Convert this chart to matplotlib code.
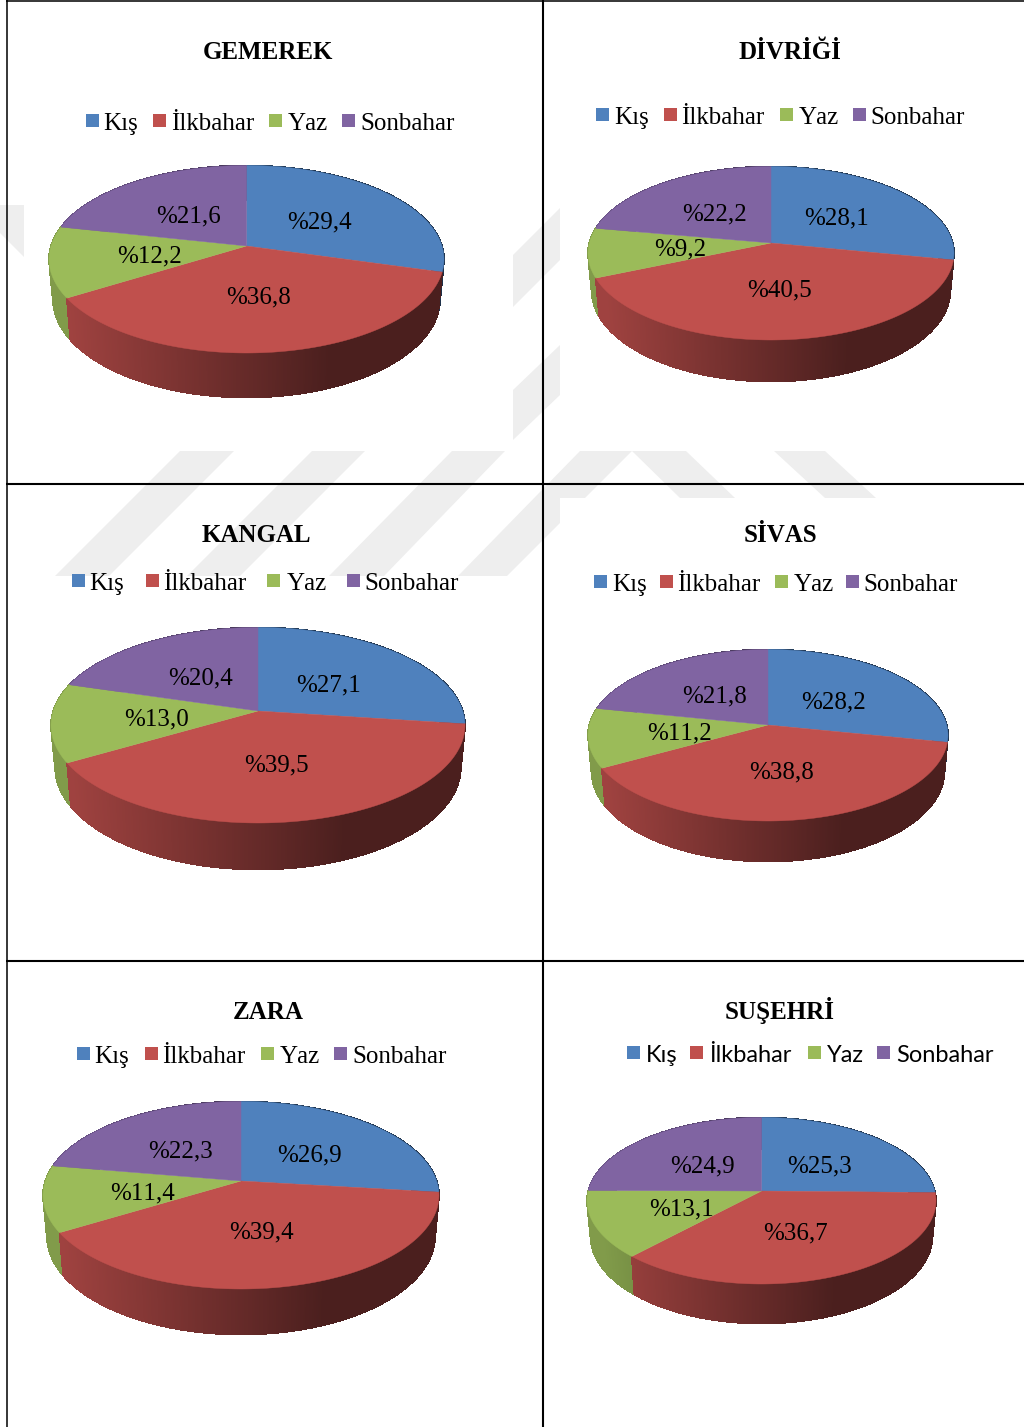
import numpy as np
import matplotlib
matplotlib.use("Agg")
import matplotlib.pyplot as plt
from matplotlib.collections import PolyCollection
from matplotlib.patches import Polygon, Rectangle

plt.rcParams["text.kerning_factor"] = 6

# chart values, percent per season
districts = ["GEMEREK", "DİVRİĞİ", "KANGAL", "SİVAS", "ZARA", "SUŞEHRİ"]
seasons = ["Kış", "İlkbahar", "Yaz", "Sonbahar"]
kis = [29.4, 28.1, 27.1, 28.2, 26.9, 25.3]
ilkbahar = [36.8, 40.5, 39.5, 38.8, 39.4, 36.7]
yaz = [12.2, 9.2, 13.0, 11.2, 11.4, 13.1]
sonbahar = [21.6, 22.2, 20.4, 21.8, 22.3, 24.9]

colors = ["#4f81bd", "#c0504d", "#9bbb59", "#8064a2"]

# layout in image pixels: apex y, top, bottom, wall bottom, left, right
pie_boxes = [
    (246, 165.5, 353, 397.5, 49, 444),
    (243, 166.5, 340, 381.5, 588, 954),
    (711, 627.5, 823, 869.5, 51, 465),
    (725, 649.5, 821, 861.5, 588, 948),
    (1181, 1101.5, 1289, 1334.5, 43, 439),
    (1191, 1117.5, 1284, 1323.5, 587, 936),
]
title_pos = [(268, 59), (790, 59), (256, 542), (780, 542), (268, 1019), (780, 1019)]
legend_swatch_x = [
    (86, 153, 269, 342), (596, 664, 780, 853), (72, 146, 267, 347),
    (594, 660, 775, 846), (77, 145, 261, 334), (627, 690, 808, 877),
]
legend_text_x = [
    (103.5, 171, 287.5, 360), (614.5, 681.5, 798.5, 870.5), (89.5, 163.5, 286.5, 364.5),
    (612.5, 677.5, 793.5, 863.5), (94.5, 162.5, 279.5, 352), (646, 709, 827, 896.5),
]
legend_base = [130, 124, 590, 591, 1063, 1062]
label_pos = [
    [(319.5, 220), (258.5, 295), (149.5, 254), (188.5, 214)],
    [(836.5, 216), (779.5, 288), (680.5, 247), (714.5, 212)],
    [(328.5, 683), (276.5, 763), (156.5, 717), (200.5, 676)],
    [(833.5, 700), (781.5, 770), (679.5, 731), (714.5, 694)],
    [(309.5, 1153), (261.5, 1230), (142.5, 1191), (180.5, 1149)],
    [(819.5, 1164), (795.5, 1231), (681.5, 1207), (702.5, 1164)],
]

SERIF = "Liberation Serif"
WATERMARK = "#eeeeee"


def project(theta, cx, cy, r, a, k):
    # circle seen in perspective, theta clockwise from 12 o'clock
    w = 1 + k * np.cos(theta)
    return cx + r * np.sin(theta) / w, cy - a * np.cos(theta) / w


def wall_shade(t):
    # light on the left, flat dark from about 70% of the width
    return np.interp(t, [0.05, 0.71], [0.83, 0.39])


def draw_pie(ax, values, box):
    apex_y, top, bottom, wall_bottom, left, right = box
    cx = (left + right) / 2
    a = 2 / (1 / (apex_y - top) + 1 / (bottom - apex_y))
    k = a / (apex_y - top) - 1
    r = (right - left) / 2 * np.sqrt(1 - k * k)
    a2 = a * 1.05
    r2 = r * 0.98
    cy2 = wall_bottom - a2 / (1 - k)

    edges = np.concatenate([[0], np.cumsum(values)]) / np.sum(values) * 2 * np.pi

    # side wall, back to front
    quads, quad_colors, depth = [], [], []
    for i, color in enumerate(colors):
        base = np.array(matplotlib.colors.to_rgb(color))
        n = max(int((edges[i + 1] - edges[i]) * 120), 2)
        th = np.linspace(edges[i], edges[i + 1], n + 1)
        x1, y1 = project(th, cx, apex_y, r, a, k)
        x2, y2 = project(th, cx, cy2, r2, a2, k)
        for j in range(n):
            quads.append([(x1[j], y1[j]), (x1[j + 1], y1[j + 1]), (x2[j + 1], y2[j + 1]), (x2[j], y2[j])])
            t = (x1[j] - left) / (right - left)
            quad_colors.append(base * wall_shade(t))
            depth.append(np.cos(th[j]))
    order = np.argsort(depth)[::-1]
    ax.add_collection(PolyCollection(
        [quads[i] for i in order],
        facecolors=[quad_colors[i] for i in order],
        edgecolors="face", linewidths=0.5, antialiaseds=False, zorder=2,
    ))

    # top face
    for i, color in enumerate(colors):
        th = np.linspace(edges[i], edges[i + 1], 200)
        x, y = project(th, cx, apex_y, r, a, k)
        pts = np.column_stack([np.r_[cx, x], np.r_[apex_y, y]])
        ax.add_patch(Polygon(pts, closed=True, facecolor=color, edgecolor=color, linewidth=0.3, zorder=3))


def main():
    fig = plt.figure(figsize=(10.24, 14.27), dpi=100)
    ax = fig.add_axes([0, 0, 1, 1])
    ax.set_xlim(0, 1024)
    ax.set_ylim(1427, 0)
    ax.axis("off")

    # thesis watermark behind the charts
    stripes = [
        [(0, 205), (24, 205), (24, 257), (0, 233)],
        [(513, 255), (560, 208), (560, 260), (513, 307)],
        [(513, 390), (560, 345), (560, 395), (513, 440)],
        [(180, 451), (234, 451), (109, 576), (55, 576)],
        [(312, 451), (365, 451), (240, 576), (187, 576)],
        [(452, 451), (505, 451), (384, 576), (329, 576)],
        [(580, 451), (632, 451), (507, 576), (458, 576)],
        [(632, 451), (686, 451), (735, 498), (680, 498)],
        [(774, 451), (825, 451), (876, 498), (825, 498)],
    ]
    for pts in stripes:
        ax.add_patch(Polygon(pts, closed=True, facecolor=WATERMARK, edgecolor="none", zorder=0))
    ax.add_patch(Rectangle((560, 498), 464, 120, facecolor="white", edgecolor="none", zorder=1))

    for i, name in enumerate(districts):
        values = [kis[i], ilkbahar[i], yaz[i], sonbahar[i]]
        draw_pie(ax, values, pie_boxes[i])

        ax.text(title_pos[i][0], title_pos[i][1], name, ha="center", va="baseline",
                family=SERIF, weight="bold", fontsize=18, color="black", zorder=5)

        # SUŞEHRİ legend was left in the sans font
        legend_font = "Lato" if name == "SUŞEHRİ" else SERIF
        legend_size = 17 if name == "SUŞEHRİ" else 18
        for j, season in enumerate(seasons):
            base = legend_base[i]
            ax.add_patch(Rectangle((legend_swatch_x[i][j], base - 16), 13, 13,
                                   facecolor=colors[j], edgecolor="none", zorder=5))
            ax.text(legend_text_x[i][j], base + 0.4, season, ha="left", va="baseline",
                    family=legend_font, fontsize=legend_size, color="black", zorder=5)

        for v, (lx, ly) in zip(values, label_pos[i]):
            text = "%" + f"{v:.1f}".replace(".", ",")
            ax.text(lx, ly + 8, text, ha="center", va="baseline",
                    family=SERIF, fontsize=18, color="black", zorder=6)

    # table rules
    ax.plot([6.5, 6.5], [0, 1427], color="black", lw=1.1, zorder=7, solid_capstyle="butt")
    ax.plot([543, 543], [0, 1427], color="black", lw=1.5, zorder=7, solid_capstyle="butt")
    ax.plot([6, 1024], [0.5, 0.5], color="black", lw=1.1, zorder=7, solid_capstyle="butt")
    ax.plot([6, 1024], [484, 484], color="black", lw=1.5, zorder=7, solid_capstyle="butt")
    ax.plot([6, 1024], [961, 961], color="black", lw=1.5, zorder=7, solid_capstyle="butt")

    fig.savefig("out.png", dpi=100)
    plt.close(fig)


if __name__ == "__main__":
    main()
